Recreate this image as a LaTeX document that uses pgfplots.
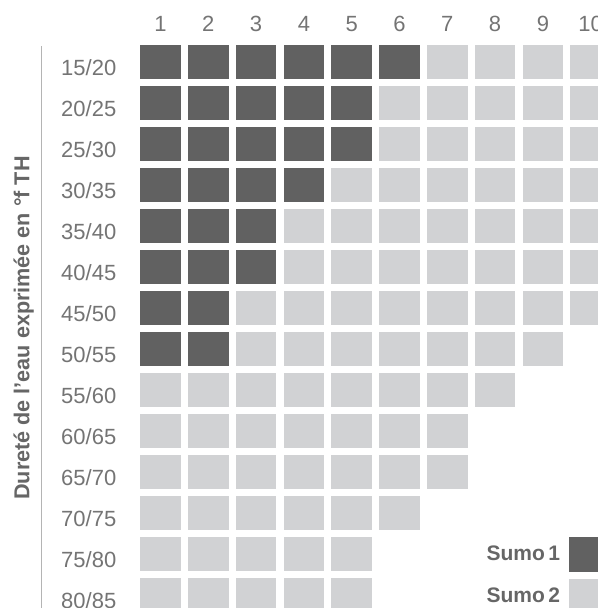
\documentclass[border=0pt]{standalone}
\usepackage{fontspec}
\setmainfont{Liberation Sans}
\usepackage{pgfplots}
\pgfplotsset{compat=1.18}
\definecolor{darktile}{HTML}{616161}
\definecolor{lighttile}{HTML}{D1D2D4}
\definecolor{labelgray}{HTML}{747474}
\definecolor{titlegray}{HTML}{666666}
\definecolor{rulegray}{HTML}{B4B4B4}
\pgfdeclareplotmark{tile}{\pgfpathrectangle{\pgfpoint{-20.25bp}{-16.7bp}}{\pgfpoint{40.5bp}{33.4bp}}\pgfusepathqfill}
\begin{document}
\begin{tikzpicture}
\useasboundingbox (0,0) rectangle (598bp,608bp);
\begin{axis}[
  at={(0,0)}, anchor=south west,
  scale only axis, width=598bp, height=608bp,
  xmin=-2.3577, xmax=10.1527, ymin=-14.317, ymax=0.5122,
  axis line style={draw=none}, tick style={draw=none},
  xtick={1,2,3,4,5,6,7,8,9,10},
  xticklabels={1,2,3,4,5,6,7,8,9,10},
  xticklabel pos=right,
  xticklabel style={anchor=base, inner sep=0pt, yshift=-31.7bp, font=\fontsize{22bp}{26bp}\selectfont, text=labelgray},
  ytick={-1,-2,-3,-4,-5,-6,-7,-8,-9,-10,-11,-12,-13,-14},
  yticklabels={15/20,20/25,25/30,30/35,35/40,40/45,45/50,50/55,55/60,60/65,65/70,70/75,75/80,80/85},
  yticklabel pos=left,
  yticklabel style={anchor=base west, inner sep=0pt, xshift=61bp, yshift=-13.8bp, font=\fontsize{22bp}{26bp}\selectfont, text=labelgray},
  every axis y label/.style={at={(axis description cs:0.049,0.4605)}, anchor=base, rotate=90, font=\bfseries\fontsize{21.6bp}{26bp}\selectfont, text=titlegray},
  ylabel={Dureté de l’eau exprimée en °f TH},
  legend plot pos=right,
  legend style={draw=none, fill=none, at={(axis description cs:1.0209,0.1163)}, anchor=north east, inner sep=0pt, row sep=7.6bp, column sep=9.3bp, cells={anchor=east}, nodes={inner sep=0pt, text=titlegray}, font=\bfseries\fontsize{21bp}{25bp}\selectfont},
  clip=true,
]
% Sumo 1
\addplot[only marks, mark=tile, color=darktile, mark options={fill=darktile, draw=none},
  legend image code/.code={\fill[darktile] (0bp,-16.7bp) rectangle (40.5bp,16.7bp);}]
coordinates {
(1,-1) (2,-1) (3,-1) (4,-1) (5,-1) (6,-1)
(1,-2) (2,-2) (3,-2) (4,-2) (5,-2)
(1,-3) (2,-3) (3,-3) (4,-3) (5,-3)
(1,-4) (2,-4) (3,-4) (4,-4)
(1,-5) (2,-5) (3,-5)
(1,-6) (2,-6) (3,-6)
(1,-7) (2,-7)
(1,-8) (2,-8)
};
\addlegendentry{Sumo\,1}
% Sumo 2
\addplot[only marks, mark=tile, color=lighttile, mark options={fill=lighttile, draw=none},
  legend image code/.code={\fill[lighttile] (0bp,-16.7bp) rectangle (40.5bp,16.7bp);}]
coordinates {
(7,-1) (8,-1) (9,-1) (10,-1)
(6,-2) (7,-2) (8,-2) (9,-2) (10,-2)
(6,-3) (7,-3) (8,-3) (9,-3) (10,-3)
(5,-4) (6,-4) (7,-4) (8,-4) (9,-4) (10,-4)
(4,-5) (5,-5) (6,-5) (7,-5) (8,-5) (9,-5) (10,-5)
(4,-6) (5,-6) (6,-6) (7,-6) (8,-6) (9,-6) (10,-6)
(3,-7) (4,-7) (5,-7) (6,-7) (7,-7) (8,-7) (9,-7) (10,-7)
(3,-8) (4,-8) (5,-8) (6,-8) (7,-8) (8,-8) (9,-8)
(1,-9) (2,-9) (3,-9) (4,-9) (5,-9) (6,-9) (7,-9) (8,-9)
(1,-10) (2,-10) (3,-10) (4,-10) (5,-10) (6,-10) (7,-10)
(1,-11) (2,-11) (3,-11) (4,-11) (5,-11) (6,-11) (7,-11)
(1,-12) (2,-12) (3,-12) (4,-12) (5,-12) (6,-12)
(1,-13) (2,-13) (3,-13) (4,-13) (5,-13)
(1,-14) (2,-14) (3,-14) (4,-14) (5,-14)
};
\addlegendentry{Sumo\,2}
\draw[rulegray, line width=1bp] (axis description cs:0.0697,0.9243) -- (axis description cs:0.0697,0);
\end{axis}
\end{tikzpicture}
\end{document}
